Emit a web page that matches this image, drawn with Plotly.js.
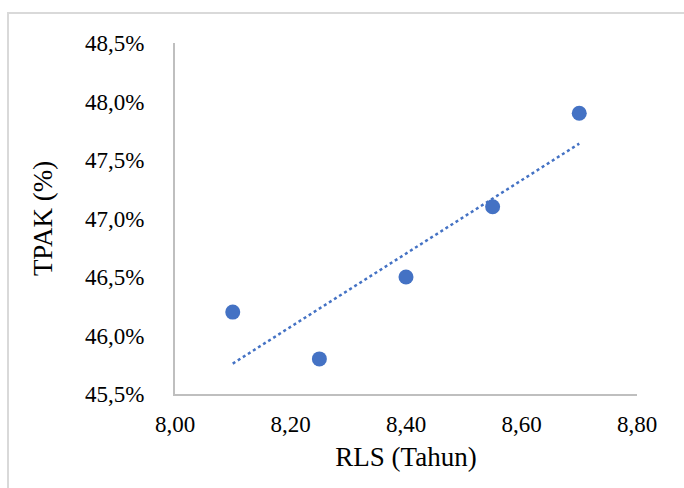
<!DOCTYPE html>
<html>
<head>
<meta charset="utf-8">
<script src="https://cdn.plot.ly/plotly-3.0.1.min.js"></script>
<style>
  html, body { margin: 0; padding: 0; background: #fff; overflow: hidden; }
  #frame { position: absolute; left: 7px; top: 12px; width: 700px; height: 500px;
           border-top: 2px solid #d9d9d9; border-left: 2px solid #d9d9d9; }
  #chart { position: absolute; left: 0; top: 0; width: 684px; height: 488px; }
</style>
</head>
<body>
<div id="frame"></div>
<div id="chart"></div>
<script>
// Data
const rls = [8.10, 8.25, 8.40, 8.55, 8.70];      // RLS (Tahun)
const tpak = [46.2, 45.8, 46.5, 47.1, 47.9];     // TPAK (%)
const xTickVals = [8.0, 8.2, 8.4, 8.6, 8.8];
const xTickText = ['8,00', '8,20', '8,40', '8,60', '8,80'];
const yTickVals = [45.5, 46.0, 46.5, 47.0, 47.5, 48.0, 48.5];
const yTickText = ['45,5%', '46,0%', '46,5%', '47,0%', '47,5%', '48,0%', '48,5%'];

// Linear trendline (least squares) from the data
const n = rls.length;
const mx = rls.reduce((a, b) => a + b, 0) / n;
const my = tpak.reduce((a, b) => a + b, 0) / n;
let sxy = 0, sxx = 0;
for (let i = 0; i < n; i++) { sxy += (rls[i] - mx) * (tpak[i] - my); sxx += (rls[i] - mx) ** 2; }
const slope = sxy / sxx, icpt = my - slope * mx;
const trendX = [Math.min(...rls), Math.max(...rls)];
const trendY = trendX.map(x => icpt + slope * x);

const blue = '#4472C4';
const font = 'Liberation Serif';

const traces = [
  { x: trendX, y: trendY, mode: 'lines', type: 'scatter',
    line: { color: blue, width: 2.5, dash: 'dot' }, hoverinfo: 'skip' },
  { x: rls, y: tpak, mode: 'markers', type: 'scatter',
    marker: { color: blue, size: 15 } }
];

const layout = {
  width: 684, height: 488,
  margin: { l: 175, r: 47, t: 43, b: 94 },
  paper_bgcolor: 'rgba(0,0,0,0)', plot_bgcolor: 'rgba(0,0,0,0)',
  showlegend: false,
  font: { family: font, color: '#000', size: 23 },
  xaxis: {
    range: [8.0, 8.8], tickmode: 'array', tickvals: xTickVals, ticktext: xTickText,
    showgrid: false, zeroline: false, showline: true, linecolor: '#bfbfbf', linewidth: 2,
    ticks: 'outside', ticklen: 8, tickcolor: 'rgba(0,0,0,0)',
    tickfont: { family: font, size: 23, color: '#000' },
    title: { text: 'RLS (Tahun)', font: { family: font, size: 27, color: '#000' }, standoff: 12 }
  },
  yaxis: {
    range: [45.5, 48.5], tickmode: 'array', tickvals: yTickVals, ticktext: yTickText,
    showgrid: false, zeroline: false, showline: true, linecolor: '#bfbfbf', linewidth: 2,
    ticks: 'outside', ticklen: 24, tickcolor: 'rgba(0,0,0,0)',
    tickfont: { family: font, size: 23, color: '#000' },
    title: { text: 'TPAK (%)', font: { family: font, size: 27, color: '#000' }, standoff: 25 }
  }
};

Plotly.newPlot('chart', traces, layout, { staticPlot: true, displayModeBar: false });
</script>
</body>
</html>
